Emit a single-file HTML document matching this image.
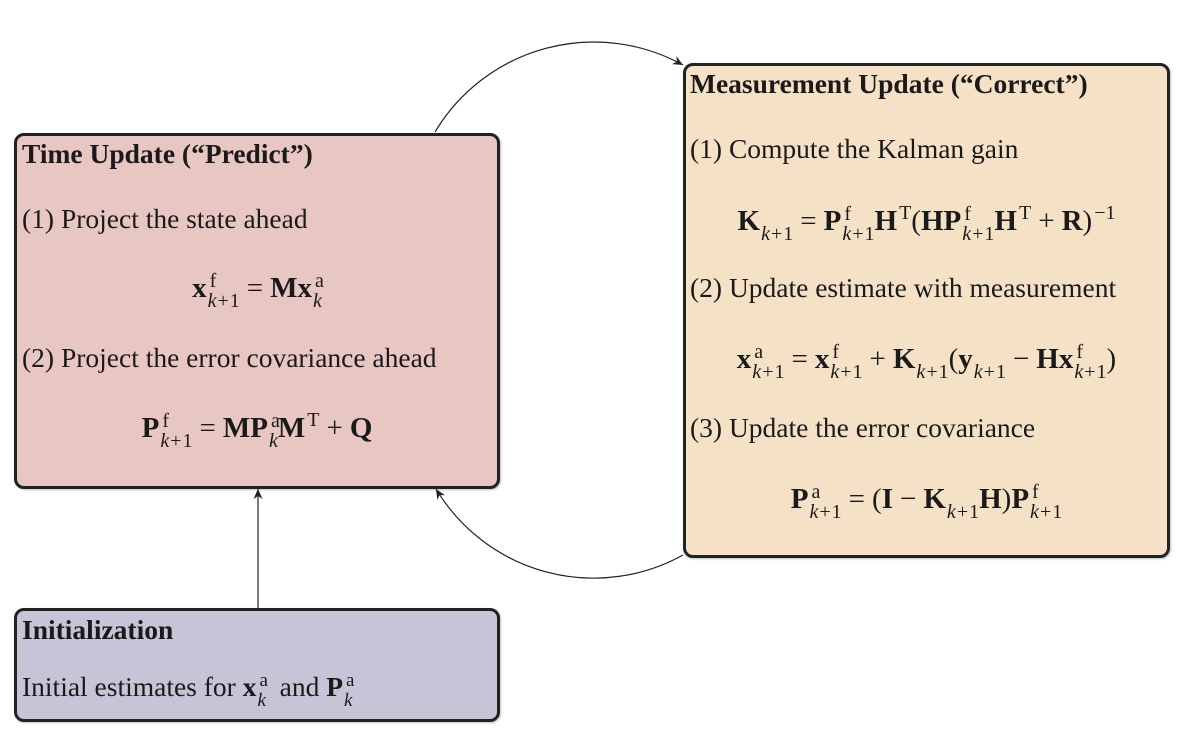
<!DOCTYPE html>
<html><head><meta charset="utf-8">
<style>
html,body{margin:0;padding:0;background:#fff;}
body{width:1186px;height:736px;position:relative;overflow:hidden;font-family:"Liberation Serif",serif;color:#1a1a1a;}
.box{position:absolute;box-sizing:border-box;border:3px solid #222;border-radius:10px;box-shadow:1px 1px 2px rgba(0,0,0,0.25);}
.t{position:absolute;white-space:nowrap;font-size:27.5px;line-height:30px;}
.h{font-weight:bold;}
.eq{position:absolute;white-space:nowrap;font-size:29px;line-height:30px;text-align:center;}
b{font-weight:bold;}
.s{display:inline-block;position:relative;font-size:20px;line-height:18px;font-weight:normal;margin-left:1px;}
.s .b{position:relative;top:10px;}
.s .a{position:absolute;left:2px;top:-10px;}
.s .pl{margin:0 1px;}
.t .s{font-size:19px;}
.op{margin:0 7px;}
.p{display:inline-block;position:relative;top:-11px;font-size:20px;font-weight:normal;margin-left:2px;}
svg{position:absolute;left:0;top:0;}
</style></head><body>

<div class="box" style="left:14px;top:133px;width:486px;height:356px;background:#e8c6c2;"></div>
<div class="box" style="left:683px;top:63px;width:487px;height:495px;background:#f5e1c6;"></div>
<div class="box" style="left:14px;top:608px;width:486px;height:114px;background:#c7c4d7;"></div>

<!-- Time Update -->
<div class="t h" style="left:22px;top:139px;">Time Update (“Predict”)</div>
<div class="t" style="left:22px;top:204px;">(1) Project the state ahead</div>
<div class="eq" style="left:14px;width:486px;top:273px;"><b>x</b><span class="s"><span class="a">f</span><span class="b"><i>k</i><span class="pl">+</span>1</span></span><span class="op">=</span><b>Mx</b><span class="s"><span class="a">a</span><span class="b"><i>k</i></span></span></div>
<div class="t" style="left:22px;top:343px;">(2) Project the error covariance ahead</div>
<div class="eq" style="left:14px;width:486px;top:413px;"><b>P</b><span class="s"><span class="a">f</span><span class="b"><i>k</i><span class="pl">+</span>1</span></span><span class="op">=</span><b>MP</b><span class="s"><span class="a">a</span><span class="b"><i>k</i></span></span><b>M</b><span class="p">T</span><span class="op">+</span><b>Q</b></div>

<!-- Measurement Update -->
<div class="t h" style="left:690px;top:69px;">Measurement Update (“Correct”)</div>
<div class="t" style="left:690px;top:134px;">(1) Compute the Kalman gain</div>
<div class="eq" style="left:683px;width:487px;top:206px;"><b>K</b><span class="s"><span class="b"><i>k</i><span class="pl">+</span>1</span></span><span class="op">=</span><b>P</b><span class="s"><span class="a">f</span><span class="b"><i>k</i><span class="pl">+</span>1</span></span><b>H</b><span class="p">T</span>(<b>HP</b><span class="s"><span class="a">f</span><span class="b"><i>k</i><span class="pl">+</span>1</span></span><b>H</b><span class="p">T</span><span class="op">+</span><b>R</b>)<span class="p">−1</span></div>
<div class="t" style="left:690px;top:273px;">(2) Update estimate with measurement</div>
<div class="eq" style="left:683px;width:487px;top:344px;"><b>x</b><span class="s"><span class="a">a</span><span class="b"><i>k</i><span class="pl">+</span>1</span></span><span class="op">=</span><b>x</b><span class="s"><span class="a">f</span><span class="b"><i>k</i><span class="pl">+</span>1</span></span><span class="op">+</span><b>K</b><span class="s"><span class="b"><i>k</i><span class="pl">+</span>1</span></span>(<b>y</b><span class="s"><span class="b"><i>k</i><span class="pl">+</span>1</span></span><span class="op">−</span><b>Hx</b><span class="s"><span class="a">f</span><span class="b"><i>k</i><span class="pl">+</span>1</span></span>)</div>
<div class="t" style="left:690px;top:413px;">(3) Update the error covariance</div>
<div class="eq" style="left:683px;width:487px;top:484px;"><b>P</b><span class="s"><span class="a">a</span><span class="b"><i>k</i><span class="pl">+</span>1</span></span><span class="op">=</span>(<b>I</b><span class="op">−</span><b>K</b><span class="s"><span class="b"><i>k</i><span class="pl">+</span>1</span></span><b>H</b>)<b>P</b><span class="s"><span class="a">f</span><span class="b"><i>k</i><span class="pl">+</span>1</span></span></div>

<!-- Initialization -->
<div class="t h" style="left:22px;top:615px;">Initialization</div>
<div class="t" style="left:22px;top:672px;">Initial estimates for <b>x</b><span class="s"><span class="a">a</span><span class="b"><i>k</i></span></span>&nbsp; and <b>P</b><span class="s"><span class="a">a</span><span class="b"><i>k</i></span></span></div>

<svg width="1186" height="736" viewBox="0 0 1186 736">
<defs>
<marker id="ar" markerUnits="userSpaceOnUse" markerWidth="14" markerHeight="12" refX="11" refY="6" orient="auto">
<path d="M11,6 L1,1.5 L4,6 L1,10.5 Z" fill="#222"/>
</marker>
</defs>
<path d="M435,132 A185,185 0 0 1 683,65" fill="none" stroke="#222" stroke-width="1.2" marker-end="url(#ar)"/>
<path d="M683,555 A184,184 0 0 1 436,489" fill="none" stroke="#222" stroke-width="1.2" marker-end="url(#ar)"/>
<path d="M258,608 L258,489" fill="none" stroke="#222" stroke-width="1.2" marker-end="url(#ar)"/>
</svg>
</body></html>
